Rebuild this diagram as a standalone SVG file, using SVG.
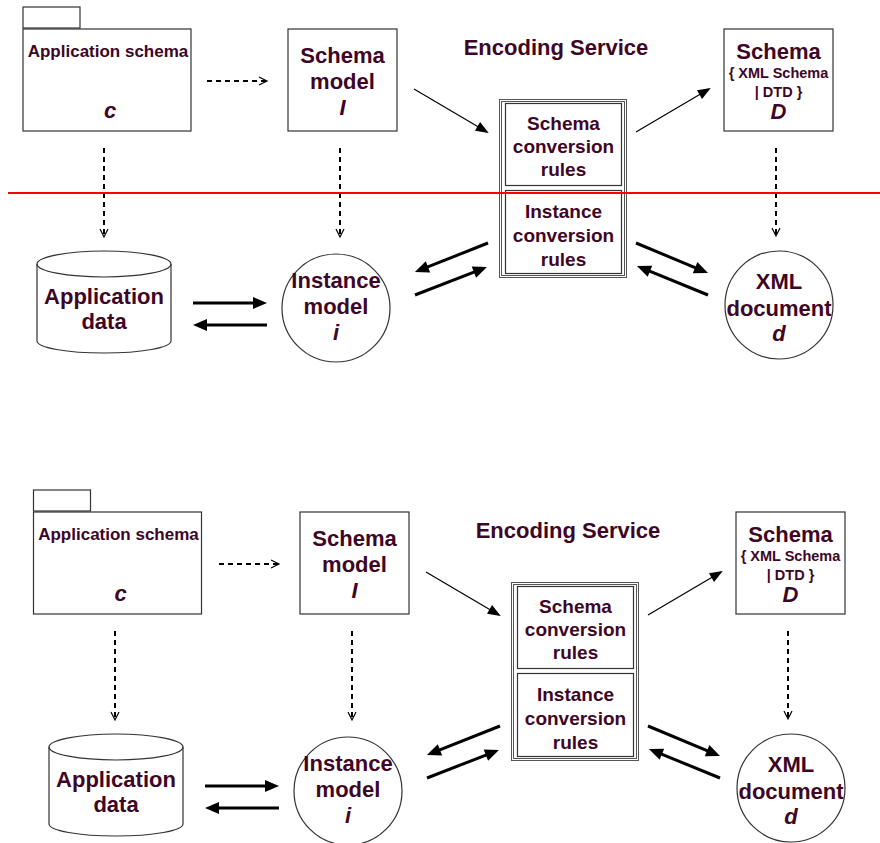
<svg xmlns="http://www.w3.org/2000/svg" width="880" height="843" viewBox="0 0 880 843">
<style>
text{font-family:"Liberation Sans",Arial,sans-serif;font-weight:bold;fill:#3e0626;text-anchor:middle}
.big{font-size:22px}
.mid{font-size:19px}
.pkg{font-size:17px}
.sm{font-size:14.5px}
.it{font-style:italic}
.box{fill:#fff;stroke:#333;stroke-width:1.2}
.frame{fill:none;stroke:#555;stroke-width:1}
.dash{fill:none;stroke:#000;stroke-width:2;stroke-dasharray:5 4;marker-end:url(#open)}
.thin{fill:none;stroke:#000;stroke-width:1.2;marker-end:url(#tri)}
.bold{fill:none;stroke:#000;stroke-width:3;marker-end:url(#btri)}
</style>
<defs>
<marker id="open" markerUnits="userSpaceOnUse" markerWidth="10" markerHeight="10" refX="8" refY="4" orient="auto" overflow="visible"><path d="M0,0 L8,4 L0,8" fill="none" stroke="#000" stroke-width="1.2"/></marker>
<marker id="tri" markerUnits="userSpaceOnUse" markerWidth="14" markerHeight="12" refX="11" refY="5" orient="auto" overflow="visible"><path d="M0,0 L13,5 L0,10 z" fill="#000"/></marker>
<marker id="btri" markerUnits="userSpaceOnUse" markerWidth="16" markerHeight="14" refX="9" refY="6" orient="auto" overflow="visible"><path d="M0,0 L14,6 L0,12 z" fill="#000"/></marker>
</defs>
<rect width="880" height="843" fill="#fff"/>

<!-- TOP DIAGRAM -->
<g id="top-app-schema">
<rect class="box" x="23" y="7" width="57" height="21"/>
<rect class="box" x="23" y="29" width="168" height="102"/>
<text class="pkg" x="108" y="57">Application schema</text>
<text class="big it" x="110" y="118">c</text>
</g>
<g id="top-schema-model">
<rect class="box" x="288" y="29" width="109" height="102"/>
<text class="big" x="342.5" y="63">Schema</text>
<text class="big" x="342.5" y="89">model</text>
<text class="big it" x="342.5" y="115">I</text>
</g>
<g id="top-encoding-label"><text class="big" x="556" y="55">Encoding Service</text></g>
<g id="top-encoding">
<rect class="frame" x="499.5" y="99.5" width="127" height="178"/>
<rect class="frame" x="501.5" y="101.5" width="123" height="174"/>
<g id="top-schema-rules">
<rect class="box" x="505.5" y="103.5" width="116" height="82"/>
<text class="mid" x="563.5" y="130">Schema</text>
<text class="mid" x="563.5" y="153">conversion</text>
<text class="mid" x="563.5" y="176">rules</text>
</g>
<g id="top-instance-rules">
<rect class="box" x="505.5" y="190.5" width="116" height="83"/>
<text class="mid" x="563.5" y="218">Instance</text>
<text class="mid" x="563.5" y="242">conversion</text>
<text class="mid" x="563.5" y="266">rules</text>
</g>
</g>
<g id="top-schema-d">
<rect class="box" x="724" y="29" width="109" height="102"/>
<text class="big" x="778.5" y="59">Schema</text>
<text class="sm" x="778.5" y="78">{ XML Schema</text>
<text class="sm" x="778.5" y="97">| DTD }</text>
<text class="big it" x="778.5" y="119">D</text>
</g>
<g id="top-app-data">
<path class="box" d="M37,264 A67,13 0 0 1 171,264 L171,341 A67,12 0 0 1 37,341 Z"/>
<path fill="none" stroke="#333" stroke-width="1.2" d="M37,264 A67,13 0 0 0 171,264"/>
<text class="big" x="104" y="304">Application</text>
<text class="big" x="104" y="329">data</text>
</g>
<g id="top-instance-model">
<circle class="box" cx="336" cy="308" r="54"/>
<text class="big" x="336" y="288">Instance</text>
<text class="big" x="336" y="314">model</text>
<text class="big it" x="336" y="340">i</text>
</g>
<g id="top-xml-doc">
<circle class="box" cx="779" cy="305" r="54"/>
<text class="big" x="779" y="289">XML</text>
<text class="big" x="779" y="316">document</text>
<text class="big it" x="779" y="341">d</text>
</g>
<g id="top-connectors">
<line class="dash" x1="207" y1="81" x2="267" y2="81"/>
<line class="dash" x1="104" y1="148" x2="104" y2="237"/>
<line class="dash" x1="340" y1="148" x2="340" y2="237"/>
<line class="dash" x1="776" y1="148" x2="776" y2="236"/>
<line class="thin" x1="414" y1="89" x2="487" y2="132"/>
<line class="thin" x1="636" y1="132" x2="709" y2="89"/>
<line class="bold" x1="193" y1="303" x2="262" y2="303"/>
<line class="bold" x1="267" y1="325" x2="198" y2="325"/>
<line class="bold" x1="488" y1="243" x2="419.6" y2="270.2"/>
<line class="bold" x1="415" y1="295" x2="482.3" y2="268.8"/>
<line class="bold" x1="636" y1="243" x2="703.4" y2="271.1"/>
<line class="bold" x1="708" y1="295" x2="641.6" y2="267.9"/>
</g>
<g id="divider"><line x1="8" y1="193" x2="880" y2="193" stroke="#f00" stroke-width="2"/></g>

<!-- BOTTOM DIAGRAM -->
<g id="bottom-app-schema" transform="translate(10.5,483)">
<rect class="box" x="23" y="7" width="57" height="21"/>
<rect class="box" x="23" y="29" width="168" height="102"/>
<text class="pkg" x="108" y="57">Application schema</text>
<text class="big it" x="110" y="118">c</text>
</g>
<g id="bottom-schema-model" transform="translate(12,483)">
<rect class="box" x="288" y="29" width="109" height="102"/>
<text class="big" x="342.5" y="63">Schema</text>
<text class="big" x="342.5" y="89">model</text>
<text class="big it" x="342.5" y="115">I</text>
</g>
<g id="bottom-encoding-label" transform="translate(12,483)"><text class="big" x="556" y="55">Encoding Service</text></g>
<g id="bottom-encoding" transform="translate(12,483)">
<rect class="frame" x="499.5" y="99.5" width="127" height="178"/>
<rect class="frame" x="501.5" y="101.5" width="123" height="174"/>
<g id="bottom-schema-rules">
<rect class="box" x="505.5" y="103.5" width="116" height="82"/>
<text class="mid" x="563.5" y="130">Schema</text>
<text class="mid" x="563.5" y="153">conversion</text>
<text class="mid" x="563.5" y="176">rules</text>
</g>
<g id="bottom-instance-rules">
<rect class="box" x="505.5" y="190.5" width="116" height="83"/>
<text class="mid" x="563.5" y="218">Instance</text>
<text class="mid" x="563.5" y="242">conversion</text>
<text class="mid" x="563.5" y="266">rules</text>
</g>
</g>
<g id="bottom-schema-d" transform="translate(12,483)">
<rect class="box" x="724" y="29" width="109" height="102"/>
<text class="big" x="778.5" y="59">Schema</text>
<text class="sm" x="778.5" y="78">{ XML Schema</text>
<text class="sm" x="778.5" y="97">| DTD }</text>
<text class="big it" x="778.5" y="119">D</text>
</g>
<g id="bottom-app-data" transform="translate(12,483)">
<path class="box" d="M37,264 A67,13 0 0 1 171,264 L171,341 A67,12 0 0 1 37,341 Z"/>
<path fill="none" stroke="#333" stroke-width="1.2" d="M37,264 A67,13 0 0 0 171,264"/>
<text class="big" x="104" y="304">Application</text>
<text class="big" x="104" y="329">data</text>
</g>
<g id="bottom-instance-model" transform="translate(12,483)">
<circle class="box" cx="336" cy="308" r="54"/>
<text class="big" x="336" y="288">Instance</text>
<text class="big" x="336" y="314">model</text>
<text class="big it" x="336" y="340">i</text>
</g>
<g id="bottom-xml-doc" transform="translate(12,483)">
<circle class="box" cx="779" cy="305" r="54"/>
<text class="big" x="779" y="289">XML</text>
<text class="big" x="779" y="316">document</text>
<text class="big it" x="779" y="341">d</text>
</g>
<g id="bottom-connectors" transform="translate(12,483)">
<line class="dash" x1="207" y1="81" x2="267" y2="81"/>
<line class="dash" x1="103" y1="148" x2="103" y2="237"/>
<line class="dash" x1="340" y1="148" x2="340" y2="237"/>
<line class="dash" x1="776" y1="148" x2="776" y2="236"/>
<line class="thin" x1="414" y1="89" x2="487" y2="132"/>
<line class="thin" x1="636" y1="132" x2="709" y2="89"/>
<line class="bold" x1="193" y1="303" x2="262" y2="303"/>
<line class="bold" x1="267" y1="325" x2="198" y2="325"/>
<line class="bold" x1="488" y1="243" x2="419.6" y2="270.2"/>
<line class="bold" x1="415" y1="295" x2="482.3" y2="268.8"/>
<line class="bold" x1="636" y1="243" x2="703.4" y2="271.1"/>
<line class="bold" x1="708" y1="295" x2="641.6" y2="267.9"/>
</g>
</svg>
